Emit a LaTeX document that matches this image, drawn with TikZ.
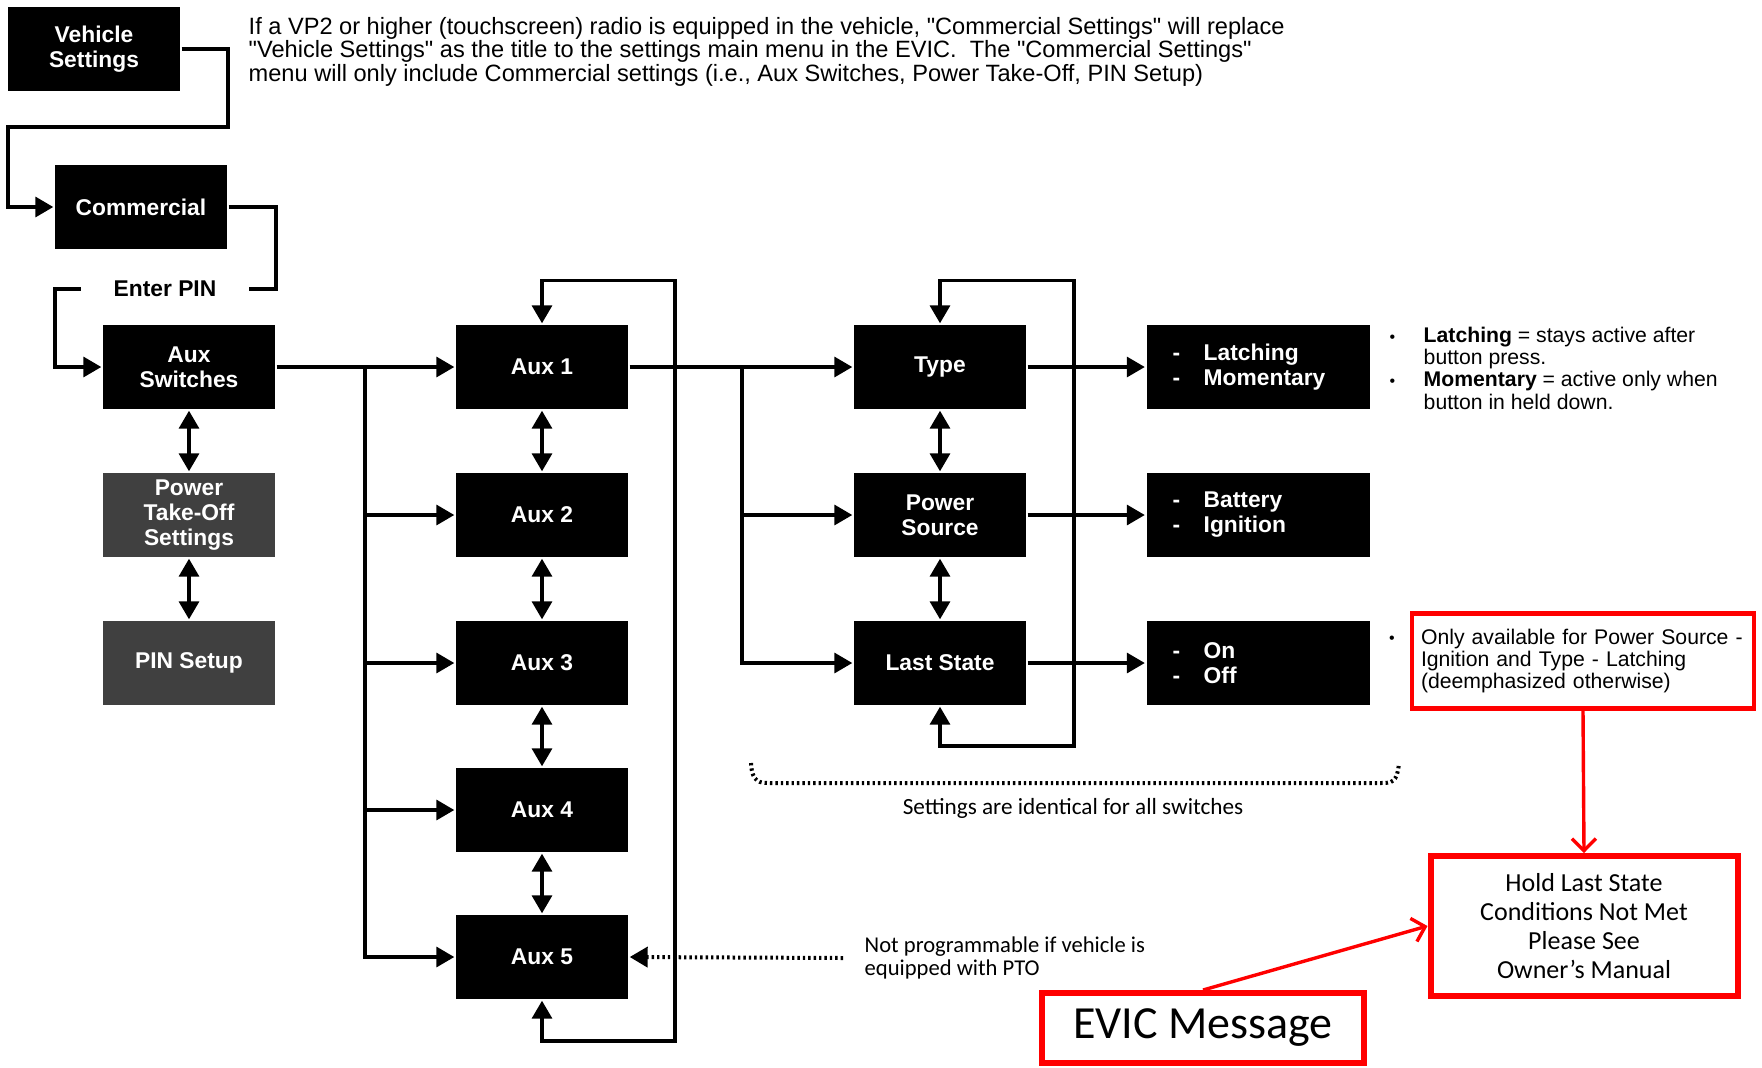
\documentclass[tikz,border=0pt]{standalone}
\usepackage{fontspec}
\setmainfont{Liberation Sans}
\newfontfamily\calfont{Carlito}
\usetikzlibrary{arrows.meta,positioning,calc}
\definecolor{ptogray}{RGB}{64,64,64}
\definecolor{notered}{RGB}{255,0,0}
\newcommand{\boxfont}{\bfseries\fontsize{11.4}{12.5}\selectfont}
\newcommand{\remarkfont}{\fontsize{10.6}{11.2}\selectfont}
\newcommand{\introfont}{\fontsize{11.8}{12.75}\selectfont}
\newcommand{\dq}{\textquotedbl}

\begin{document}
\begin{tikzpicture}[x=0.5pt,y=-0.5pt,line width=1.7pt,
	>={Triangle[length=9pt,width=10pt]},
	menu/.style={fill=black,text=white,font=\boxfont,align=center,minimum width=86pt,minimum height=42pt,inner sep=0pt},
	grey menu/.style={menu,fill=ptogray},
	choice/.style={menu,align=left,text width=85.5pt,inner xsep=13pt,minimum width=111.5pt},
	remark/.style={font=\remarkfont,inner sep=0pt,anchor=base west},
	redbox/.style={draw=notered,line width=3pt,align=center,inner sep=0pt},
	redarrow/.style={draw=notered,line width=1.7pt,-{Straight Barb[length=6pt,width=12pt]}},
	dotline/.style={line width=2pt,dash pattern=on 1.2pt off 1.5pt}]
	\useasboundingbox (0,0) rectangle (1762,1067);

	% menu boxes
	\node[menu] (vs) at (94,49) {Vehicle\\Settings};
	\node[menu] (comm) at (141,207) {Commercial};
	\node[font=\boxfont,minimum width=82.5pt,inner sep=0pt] (pin) at (165,289) {Enter PIN};
	\node[menu] (asw) at (189,367) {Aux\\Switches};
	\node[grey menu] (pto) at (189,515) {Power\\Take-Off\\Settings};
	\node[grey menu] (pinset) at (189,663) {PIN Setup};

	\node[menu] (aux1) at (542,367) {Aux 1};
	\node[menu] (aux2) at (542,515) {Aux 2};
	\node[menu] (aux3) at (542,663) {Aux 3};
	\node[menu] (aux4) at (542,810) {Aux 4};
	\node[menu] (aux5) at (542,957) {Aux 5};

	\node[menu] (type) at (940,367) {Type};
	\node[menu] (pwr) at (940,515) {Power\\Source};
	\node[menu] (last) at (940,663) {Last State};

	\node[choice] (latch) at (1258,367) {-\hspace{11.8pt}Latching\\-\hspace{11.8pt}Momentary};
	\node[choice] (batt) at (1258,515) {-\hspace{11.8pt}Battery\\-\hspace{11.8pt}Ignition};
	\node[choice] (onoff) at (1258,663) {-\hspace{11.8pt}On\\-\hspace{11.8pt}Off};

	% notes
	\node[remark] (intro) at (247,34) {\begin{tabular}[t]{@{}l@{}}
		\introfont If a VP2 or higher (touchscreen) radio is equipped in the vehicle, \dq Commercial Settings\dq{} will replace\\
		\introfont \dq Vehicle Settings\dq{} as the title to the settings main menu in the EVIC.\ \ The \dq Commercial Settings\dq\\
		\introfont menu will only include Commercial settings (i.e., Aux Switches, Power Take-Off, PIN Setup)
	\end{tabular}};
	\node[remark] (typenote) at (1388,342) {\begin{tabular}[t]{@{}p{17pt}@{}l@{}}
		{\fontsize{8}{8}\selectfont\textbullet} & \textbf{Latching} = stays active after\\
		& button press.\\
		{\fontsize{8}{8}\selectfont\textbullet} & \textbf{Momentary} = active only when\\
		& button in held down.
	\end{tabular}};
	\node[font=\fontsize{8}{8}\selectfont,inner sep=0pt] (onlybullet) at (1392,640) {\textbullet};
	\node[draw=notered,line width=2.2pt,font=\remarkfont,align=left,text width=162pt,inner xsep=4.5pt,minimum height=47.5pt] (only) at (1583,661) {Only available for Power Source -\\Ignition and Type - Latching\\(deemphasized otherwise)};
	\node[redbox,font=\calfont\fontsize{13}{14.5}\selectfont,minimum width=153.5pt,minimum height=70pt] (hold) at (1584,926) {Hold Last State\\Conditions Not Met\\Please See\\Owner’s Manual};
	\node[redbox,font=\calfont\fontsize{23}{26}\selectfont,minimum width=161pt,minimum height=35pt] (evic) at (1203,1028) {EVIC Message};
	\node[font=\calfont\fontsize{11.6}{11.6}\selectfont,inner sep=0pt] (same) at (1073,808) {Settings are identical for all switches};
	\node[font=\calfont\fontsize{11.3}{11.5}\selectfont,align=left,inner xsep=10pt,inner ysep=0pt,anchor=west] (ptonote) at (843,958) {Not programmable if vehicle is\\equipped with PTO};

	% route to the switches
	\coordinate (vsturn) at (228,127);
	\coordinate (vsleft) at (8,207);
	\coordinate (commturn) at (276,289);
	\coordinate (pinleft) at (55,289);
	\draw[->] (vs.east) -| (vsturn) -| (vsleft) -- (comm.west);
	\draw (comm.east) -| (commturn) -- (pin.east);
	\draw[->] (pin.west) -- (pinleft) |- (asw.west);
	\draw[<->] (asw) -- (pto);
	\draw[<->] (pto) -- (pinset);

	% switches
	\coordinate (auxbus) at (365,367);
	\coordinate (auxloop) at (675,1041);
	\draw[->] (asw) -- (aux1);
	\draw[->] (auxbus) |- (aux5.west);
	\draw[->] (auxbus |- aux2) -- (aux2.west);
	\draw[->] (auxbus |- aux3) -- (aux3.west);
	\draw[->] (auxbus |- aux4) -- (aux4.west);
	\draw[<->] (aux1) -- (aux2);
	\draw[<->] (aux2) -- (aux3);
	\draw[<->] (aux3) -- (aux4);
	\draw[<->] (aux4) -- (aux5);
	\draw[<->] (aux1.north) -- ++(0,-43) -| (auxloop) -| (aux5.south);

	% settings
	\coordinate (setbus) at (742,367);
	\coordinate (setloop) at (1074,746);
	\draw[->] (aux1) -- (type);
	\draw[->] (setbus) |- (last.west);
	\draw[->] (setbus |- pwr) -- (pwr.west);
	\draw[<->] (type) -- (pwr);
	\draw[<->] (pwr) -- (last);
	\draw[<->] (type.north) -- ++(0,-43) -| (setloop) -| (last.south);
	\draw[->] (type) -- (latch);
	\draw[->] (pwr) -- (batt);
	\draw[->] (last) -- (onoff);

	% dotted marks
	\draw[dotline] (751,763) .. controls (752,783) and (760,783) .. (770,783) -- (1380,783) .. controls (1392,783) and (1397,783) .. (1399,763);
	\draw[dotline,->] (ptonote.west) -- (aux5.east);

	% red marks
	\draw[redarrow] (only.south) -- (hold.north);
	\draw[redarrow] (evic.north) -- (hold.west);
\end{tikzpicture}
\end{document}
